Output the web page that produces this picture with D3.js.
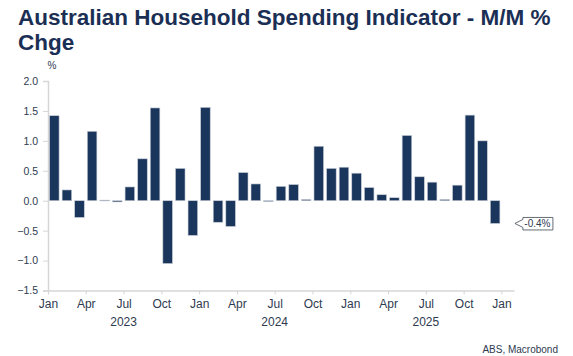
<!DOCTYPE html>
<html>
<head>
<meta charset="utf-8">
<script src="https://cdn.jsdelivr.net/npm/d3@7"></script>
<style>
  html, body { margin: 0; padding: 0; background: #ffffff; }
  svg { display: block; font-family: "Liberation Sans", Arial, sans-serif; }
</style>
</head>
<body>
<script>
// ---- Data ----
const months = [
  "2023-01","2023-02","2023-03","2023-04","2023-05","2023-06","2023-07","2023-08","2023-09","2023-10","2023-11","2023-12",
  "2024-01","2024-02","2024-03","2024-04","2024-05","2024-06","2024-07","2024-08","2024-09","2024-10","2024-11","2024-12",
  "2025-01","2025-02","2025-03","2025-04","2025-05","2025-06","2025-07","2025-08","2025-09","2025-10","2025-11","2025-12"
];
const values = [
  1.42, 0.18, -0.28, 1.16, 0.01, -0.02, 0.23, 0.70, 1.55, -1.05, 0.54, -0.58,
  1.56, -0.36, -0.43, 0.47, 0.28, 0.00, 0.24, 0.27, 0.02, 0.91, 0.54, 0.56,
  0.46, 0.22, 0.10, 0.05, 1.09, 0.40, 0.31, 0.02, 0.26, 1.43, 1.00, -0.38
];
const yTicks = [2.0, 1.5, 1.0, 0.5, 0.0, -0.5, -1.0, -1.5];
const quarterLabels = ["Jan","Apr","Jul","Oct","Jan","Apr","Jul","Oct","Jan","Apr","Jul","Oct","Jan"];
const yearLabels = ["2023","2024","2025"];
const titleLines = ["Australian Household Spending Indicator - M/M %", "Chge"];
const lastLabel = "-0.4%";
const sourceText = "ABS, Macrobond";

// ---- Layout ----
const W = 573, H = 356;
const svg = d3.select("body").append("svg").attr("width", W).attr("height", H);

const x = d3.scaleLinear().domain([0, months.length + 1]).range([48, 514]);
const y = d3.scaleLinear().domain([-1.5, 2.0]).range([290.5, 81]);

const navy = "#1b365d";
const textCol = "#2e3a50";
const axisCol = "#d6d6d6";

// Title
svg.append("g").selectAll("text").data(titleLines).join("text")
  .attr("x", 18).attr("y", (d, i) => 24.5 + i * 25)
  .attr("font-size", 22.5).attr("font-weight", "bold")
  .attr("fill", "#1b2f55")
  .text(d => d);

// Unit label
svg.append("text").attr("x", 52).attr("y", 69).attr("text-anchor", "middle")
  .attr("font-size", 10).attr("fill", textCol).text("%");

// Y axis
const yAxis = d3.axisLeft(y).tickValues(yTicks).tickFormat(d3.format(".1f")).tickSize(5).tickPadding(5);
const gy = svg.append("g").attr("transform", "translate(48,0)").call(yAxis);
gy.select(".domain").attr("stroke", axisCol).attr("stroke-width", 1.5);
gy.selectAll(".tick line").attr("stroke", axisCol).attr("stroke-width", 1);
gy.selectAll(".tick text").attr("font-size", 10.5).attr("fill", textCol)
  .attr("font-family", "Liberation Sans, Arial, sans-serif");

// X axis (quarterly ticks)
const qIdx = d3.range(0, months.length + 1, 3);
const xAxis = d3.axisBottom(x).tickValues(qIdx).tickFormat((d, i) => quarterLabels[i]).tickSize(4).tickPadding(5).tickSizeOuter(0);
const gx = svg.append("g").attr("transform", `translate(0,${y(-1.5)})`).call(xAxis);
gx.select(".domain").attr("stroke", axisCol).attr("stroke-width", 1.5);
gx.selectAll(".tick line").attr("stroke", axisCol).attr("stroke-width", 1);
gx.selectAll(".tick text").attr("font-size", 12).attr("fill", textCol)
  .attr("font-family", "Liberation Sans, Arial, sans-serif");

// Year labels centred under July
svg.append("g").selectAll("text").data(yearLabels).join("text")
  .attr("x", (d, i) => x(6 + i * 12))
  .attr("y", 326)
  .attr("text-anchor", "middle")
  .attr("font-size", 12).attr("fill", textCol)
  .text(d => d);

// Bars
const pad = 1.5;
svg.append("g").selectAll("rect").data(values).join("rect")
  .attr("x", (d, i) => x(i) + pad)
  .attr("width", (d, i) => x(i + 1) - x(i) - 2 * pad)
  .attr("y", d => y(Math.max(0, d)))
  .attr("height", d => Math.max(0.8, Math.abs(y(d) - y(0))))
  .attr("fill", navy)
  .attr("stroke", "#c9ced6").attr("stroke-width", 0.6);

// Callout for last value
const lv = values[values.length - 1];
const yv = y(lv);
const tipX = x(months.length) + 13.5;
const bx0 = tipX + 8, bx1 = tipX + 38, by0 = yv - 6, by1 = yv + 6.5;
svg.append("path")
  .attr("d", `M${tipX},${yv} L${bx0},${yv - 4} L${bx0},${by0} L${bx1},${by0} L${bx1},${by1} L${bx0},${by1} L${bx0},${yv + 4} Z`)
  .attr("fill", "#ffffff").attr("stroke", "#555c66").attr("stroke-width", 0.9);
svg.append("text").attr("x", (bx0 + bx1) / 2 - 0.5).attr("y", yv + 3.6)
  .attr("text-anchor", "middle").attr("font-size", 10).attr("fill", textCol)
  .text(lastLabel);

// Source
svg.append("text").attr("x", 558).attr("y", 353).attr("text-anchor", "end")
  .attr("font-size", 10).attr("fill", textCol).text(sourceText);
</script>
</body>
</html>
